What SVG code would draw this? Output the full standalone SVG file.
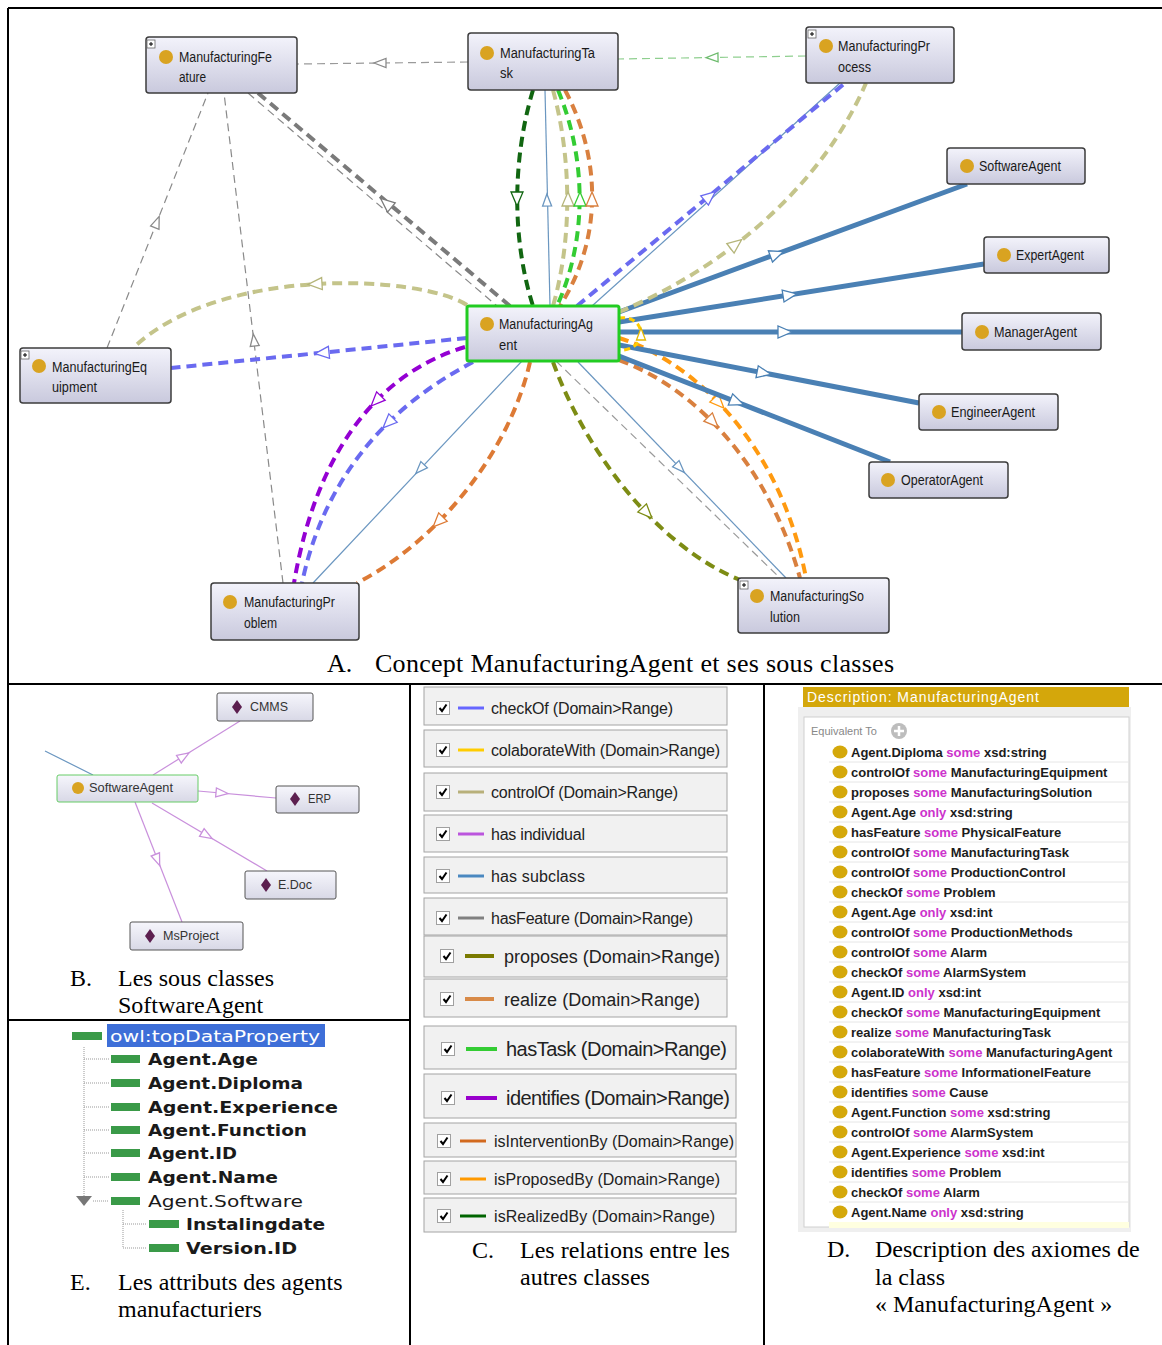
<svg xmlns="http://www.w3.org/2000/svg" width="1162" height="1345" viewBox="0 0 1162 1345">
<defs>
<linearGradient id="ng" x1="0" y1="0" x2="0" y2="1"><stop offset="0" stop-color="#f3f3fb"/><stop offset="1" stop-color="#c9c9dd"/></linearGradient>
<linearGradient id="ngb" x1="0" y1="0" x2="0" y2="1"><stop offset="0" stop-color="#f6f6fc"/><stop offset="1" stop-color="#d8d8e6"/></linearGradient>
<path id="ah" d="M7,0 L-7,-6 L-7,6 Z"/>
<path id="as" d="M6,0 L-6,-4.5 L-6,4.5 Z"/>
<g id="plus"><rect x="0" y="0" width="8" height="8" fill="#fff" stroke="#666" stroke-width="0.8"/><path d="M2,4 H6 M4,2 V6" stroke="#000" stroke-width="1"/></g>
<g id="cb"><rect x="-6.5" y="-6.5" width="13" height="13" fill="#fff" stroke="#a0a0a0"/><path d="M-3.5,0 L-1,3 L3.5,-3.5" fill="none" stroke="#000" stroke-width="2"/></g>
<path id="dia" d="M0,-7 L5,0 L0,7 L-5,0 Z" fill="#5c1f4f"/>
<style>
.frame{stroke:#000;stroke-width:2;fill:none}
.n rect.box{fill:url(#ng);stroke:#3c3c3c;stroke-width:1.5}
.nb rect.box{fill:url(#ngb);stroke:#555;stroke-width:1}
.dot{fill:#d9a321}
.lbl{font-family:"Liberation Sans",Arial,sans-serif;font-size:14px;fill:#1a1a1a}
.lblb{font-family:"Liberation Sans",Arial,sans-serif;font-size:12px;fill:#333}
.cap{font-family:"Liberation Serif","Times New Roman",serif;font-size:24px;fill:#000}
.thick{fill:none;stroke-width:4;stroke-dasharray:10 6}
.thin{fill:none;stroke-width:1.2;stroke-dasharray:8 5}
.sol{fill:none;stroke-width:1.2}
.sub{fill:none;stroke:#4a80b4;stroke-width:5}
.ah{fill:#fff;stroke-width:1.3}
.lg rect{fill:#f1f1f1;stroke:#a4a4a4;stroke-width:1}
.lt{font-family:"Liberation Sans",Arial,sans-serif;fill:#222}
.ax{font-family:"Liberation Sans",Arial,sans-serif;font-size:13px;font-weight:bold;fill:#1c1c1c}
.kw{fill:#cc33cc}
.sep{stroke:#e6e6e6;stroke-width:1}
.adot{fill:#d4a80a}
.dp{font-family:"DejaVu Sans",Verdana,sans-serif;font-size:16px;font-weight:bold;fill:#1a1a1a}
.bar{fill:#3a9a48}
.dt{stroke:#999;stroke-width:1;stroke-dasharray:1 1;fill:none}
</style>
</defs>
<rect width="1162" height="1345" fill="#fff"/>

<!-- frame -->
<g id="frame">
<path class="frame" d="M8,8 H1162 M8,8 V1345 M8,684 H1162 M410,684 V1345 M764,684 V1345 M8,1020 H410"/>
</g>

<!-- Panel A connectors -->
<g id="connectors-A">
<path class="thin" stroke="#9a9a9a" d="M468,62 L297,64"/>
<use href="#as" class="ah" stroke="#8a8a8a" transform="translate(380,63) rotate(180)"/>
<path class="thin" stroke="#8fcf8f" d="M806,56 L618,59"/>
<use href="#as" class="ah" stroke="#6dbb6d" transform="translate(712,57.5) rotate(179)"/>

<path class="thin" stroke="#888" d="M248,93 L497,306"/>
<path class="thick" stroke="#7a7a7a" d="M258,93 L510,306"/>
<use href="#ah" class="ah" stroke="#7a7a7a" transform="translate(386,203) rotate(220)"/>

<path class="thin" stroke="#8a8a8a" d="M107,348 L208,93"/>
<use href="#as" class="ah" stroke="#8a8a8a" transform="translate(157,222) rotate(-68.4)"/>
<path class="thin" stroke="#8a8a8a" d="M283,583 L224,93"/>
<use href="#as" class="ah" stroke="#8a8a8a" transform="translate(254,340) rotate(-96.9)"/>

<path class="thick" stroke="#c4c48a" d="M467,305 C420,275 220,265 133,348"/>
<use href="#ah" class="ah" stroke="#b5b57a" transform="translate(315,284) rotate(176.5)"/>
<path class="thick" stroke="#6a6af0" d="M467,338 L171,368"/>
<use href="#ah" class="ah" stroke="#6a6af0" transform="translate(322,353) rotate(174.2)"/>

<path class="thick" stroke="#9400d3" d="M465,347 C395,368 320,430 294,583"/>
<use href="#ah" class="ah" stroke="#9400d3" transform="translate(376,401) rotate(134.5)"/>
<path class="thick" stroke="#6a6af0" d="M473,362 C420,390 330,450 302,583"/>
<use href="#ah" class="ah" stroke="#6a6af0" transform="translate(388,423) rotate(135.5)"/>
<path class="sol" stroke="#6a96c0" d="M522,361 L313,583"/>
<use href="#as" class="ah" stroke="#6a96c0" transform="translate(420,469) rotate(133.3)"/>
<path class="thick" stroke="#dd7a35" d="M530,362 C510,450 440,540 357,583"/>
<use href="#ah" class="ah" stroke="#dd7a35" transform="translate(438,522) rotate(134.8)"/>

<path class="thick" stroke="#7d8c14" d="M553,362 C585,450 655,545 740,580"/>
<use href="#ah" class="ah" stroke="#7d8c14" transform="translate(647,513) rotate(46.2)"/>
<path class="thin" stroke="#9a9a9a" d="M556,361 L780,578"/>
<path class="sol" stroke="#6a96c0" d="M578,362 L786,578"/>
<use href="#as" class="ah" stroke="#6a96c0" transform="translate(680,468) rotate(46.1)"/>
<path class="thick" stroke="#d9803f" d="M619,360 C700,390 770,470 800,578"/>
<use href="#ah" class="ah" stroke="#d9803f" transform="translate(713,422) rotate(45.6)"/>
<path class="thick" stroke="#ff9a10" d="M619,338 C690,360 780,440 806,578"/>
<use href="#ah" class="ah" stroke="#ff9a10" transform="translate(719,403) rotate(46.1)"/>

<path class="sub" d="M619,312 L967,184"/>
<use href="#ah" class="ah" stroke="#4a80b4" transform="translate(777,254) rotate(-20.2)"/>
<path class="sub" d="M619,322 L984,264"/>
<use href="#ah" class="ah" stroke="#4a80b4" transform="translate(790,295) rotate(-9)"/>
<path class="sub" d="M619,332 L962,332"/>
<use href="#ah" class="ah" stroke="#4a80b4" transform="translate(785,332)"/>
<path class="sub" d="M619,345 L919,403"/>
<use href="#ah" class="ah" stroke="#4a80b4" transform="translate(764,373) rotate(10.9)"/>
<path class="sub" d="M619,356 L890,462"/>
<use href="#ah" class="ah" stroke="#4a80b4" transform="translate(737,402) rotate(21.4)"/>

<path fill="none" stroke="#ffcc00" stroke-width="3" stroke-dasharray="6 4" d="M619,318 C648,314 648,352 619,350"/>
<use href="#as" class="ah" stroke="#e6b800" transform="translate(641,334) rotate(-90)"/>

<path class="sol" stroke="#6a96c0" d="M592,306 L840,83"/>
<path class="thick" stroke="#6a6af0" d="M577,306 L845,83"/>
<use href="#ah" class="ah" stroke="#6a6af0" transform="translate(710,196) rotate(-39.6)"/>
<path class="thick" stroke="#c4c48a" d="M619,312 C720,270 820,190 866,83"/>
<use href="#ah" class="ah" stroke="#b5b57a" transform="translate(736,244) rotate(-37.6)"/>

<path class="thick" stroke="#116611" d="M533,90 C512,160 512,240 533,306"/>
<use href="#ah" class="ah" stroke="#116611" transform="translate(517,199) rotate(90)"/>
<path class="sol" stroke="#6a96c0" d="M545,90 L550,306"/>
<use href="#as" class="ah" stroke="#6a96c0" transform="translate(547,200) rotate(-91)"/>
<path class="thick" stroke="#c4c48a" d="M553,90 C572,160 572,240 553,306"/>
<use href="#ah" class="ah" stroke="#b5b57a" transform="translate(568,199) rotate(-90)"/>
<path class="thick" stroke="#33cc33" d="M558,90 C587,160 587,240 557,306"/>
<use href="#ah" class="ah" stroke="#33cc33" transform="translate(580,199) rotate(-90)"/>
<path class="thick" stroke="#d9803f" d="M565,90 C602,160 602,240 560,306"/>
<use href="#ah" class="ah" stroke="#d9803f" transform="translate(592,199) rotate(-90)"/>
</g>

<!-- Panel A nodes -->
<g id="node-ManufacturingFeature" class="n">
<rect class="box" x="146" y="37" width="151" height="56" rx="3"/>
<use href="#plus" x="147" y="40"/>
<circle class="dot" cx="166" cy="57" r="7"/>
<text class="lbl" x="179" y="62" textLength="93" lengthAdjust="spacingAndGlyphs">ManufacturingFe</text>
<text class="lbl" x="179" y="82" textLength="27" lengthAdjust="spacingAndGlyphs">ature</text>
</g>
<g id="node-ManufacturingTask" class="n">
<rect class="box" x="468" y="33" width="150" height="57" rx="3"/>
<circle class="dot" cx="487" cy="53" r="7"/>
<text class="lbl" x="500" y="58" textLength="95" lengthAdjust="spacingAndGlyphs">ManufacturingTa</text>
<text class="lbl" x="500" y="78" textLength="13" lengthAdjust="spacingAndGlyphs">sk</text>
</g>
<g id="node-ManufacturingProcess" class="n">
<rect class="box" x="806" y="27" width="148" height="56" rx="3"/>
<use href="#plus" x="808" y="30"/>
<circle class="dot" cx="826" cy="46" r="7"/>
<text class="lbl" x="838" y="51" textLength="92" lengthAdjust="spacingAndGlyphs">ManufacturingPr</text>
<text class="lbl" x="838" y="72" textLength="33" lengthAdjust="spacingAndGlyphs">ocess</text>
</g>
<g id="node-SoftwareAgent" class="n">
<rect class="box" x="947" y="148" width="138" height="36" rx="3"/>
<circle class="dot" cx="967" cy="166" r="7"/>
<text class="lbl" x="979" y="171" textLength="82" lengthAdjust="spacingAndGlyphs">SoftwareAgent</text>
</g>
<g id="node-ExpertAgent" class="n">
<rect class="box" x="984" y="237" width="125" height="36" rx="3"/>
<circle class="dot" cx="1004" cy="255" r="7"/>
<text class="lbl" x="1016" y="260" textLength="68" lengthAdjust="spacingAndGlyphs">ExpertAgent</text>
</g>
<g id="node-ManagerAgent" class="n">
<rect class="box" x="962" y="313" width="139" height="37" rx="3"/>
<circle class="dot" cx="982" cy="332" r="7"/>
<text class="lbl" x="994" y="337" textLength="83" lengthAdjust="spacingAndGlyphs">ManagerAgent</text>
</g>
<g id="node-EngineerAgent" class="n">
<rect class="box" x="919" y="394" width="139" height="36" rx="3"/>
<circle class="dot" cx="939" cy="412" r="7"/>
<text class="lbl" x="951" y="417" textLength="84" lengthAdjust="spacingAndGlyphs">EngineerAgent</text>
</g>
<g id="node-OperatorAgent" class="n">
<rect class="box" x="869" y="462" width="139" height="36" rx="3"/>
<circle class="dot" cx="888" cy="480" r="7"/>
<text class="lbl" x="901" y="485" textLength="82" lengthAdjust="spacingAndGlyphs">OperatorAgent</text>
</g>
<g id="node-ManufacturingAgent" class="n">
<rect class="box" x="467" y="306" width="152" height="55" rx="2" style="stroke:#22cc22;stroke-width:3"/>
<circle class="dot" cx="487" cy="324" r="7"/>
<text class="lbl" x="499" y="329" textLength="94" lengthAdjust="spacingAndGlyphs">ManufacturingAg</text>
<text class="lbl" x="499" y="350" textLength="18" lengthAdjust="spacingAndGlyphs">ent</text>
</g>
<g id="node-ManufacturingEquipment" class="n">
<rect class="box" x="20" y="348" width="151" height="55" rx="3"/>
<use href="#plus" x="21" y="351"/>
<circle class="dot" cx="39" cy="366" r="7"/>
<text class="lbl" x="52" y="372" textLength="95" lengthAdjust="spacingAndGlyphs">ManufacturingEq</text>
<text class="lbl" x="52" y="392" textLength="45" lengthAdjust="spacingAndGlyphs">uipment</text>
</g>
<g id="node-ManufacturingProblem" class="n">
<rect class="box" x="211" y="583" width="148" height="57" rx="3"/>
<circle class="dot" cx="230" cy="602" r="7"/>
<text class="lbl" x="244" y="607" textLength="91" lengthAdjust="spacingAndGlyphs">ManufacturingPr</text>
<text class="lbl" x="244" y="628" textLength="33" lengthAdjust="spacingAndGlyphs">oblem</text>
</g>
<g id="node-ManufacturingSolution" class="n">
<rect class="box" x="738" y="578" width="151" height="55" rx="3"/>
<use href="#plus" x="740" y="581"/>
<circle class="dot" cx="757" cy="596" r="7"/>
<text class="lbl" x="770" y="601" textLength="94" lengthAdjust="spacingAndGlyphs">ManufacturingSo</text>
<text class="lbl" x="770" y="622" textLength="30" lengthAdjust="spacingAndGlyphs">lution</text>
</g>
<text class="cap" x="327" y="672" style="font-size:26px">A.</text>
<text class="cap" x="375" y="672" style="font-size:26px" textLength="519">Concept ManufacturingAgent et ses sous classes</text>

<!-- Panel B -->
<g id="connectors-B">
<path class="sol" stroke="#6a96c0" d="M45,751 L93,775"/>
<path class="sol" stroke="#c990dc" d="M153,775 L240,721"/>
<use href="#as" class="ah" stroke="#c990dc" transform="translate(184,756) rotate(-31.8)"/>
<path class="sol" stroke="#c990dc" d="M198,791 L276,798"/>
<use href="#as" class="ah" stroke="#c990dc" transform="translate(222,793) rotate(5.1)"/>
<path class="sol" stroke="#c990dc" d="M152,803 L267,871"/>
<use href="#as" class="ah" stroke="#c990dc" transform="translate(207,835.5) rotate(30.6)"/>
<path class="sol" stroke="#c990dc" d="M135,802 L182,922"/>
<use href="#as" class="ah" stroke="#c990dc" transform="translate(157.5,860) rotate(68.6)"/>
</g>
<g id="node-B-SoftwareAgent" class="nb">
<rect class="box" x="57" y="775" width="141" height="27" rx="2" style="stroke:#6c6"/>
<circle class="dot" cx="78" cy="788" r="6"/>
<text class="lblb" x="89" y="792" textLength="84" lengthAdjust="spacingAndGlyphs">SoftwareAgent</text>
</g>
<g id="node-B-CMMS" class="nb">
<rect class="box" x="217" y="693" width="96" height="28" rx="2"/>
<use href="#dia" x="237" y="707"/>
<text class="lblb" x="250" y="711" textLength="38" lengthAdjust="spacingAndGlyphs">CMMS</text>
</g>
<g id="node-B-ERP" class="nb">
<rect class="box" x="276" y="786" width="83" height="27" rx="2"/>
<use href="#dia" x="295" y="799"/>
<text class="lblb" x="308" y="803" textLength="23" lengthAdjust="spacingAndGlyphs">ERP</text>
</g>
<g id="node-B-EDoc" class="nb">
<rect class="box" x="245" y="871" width="91" height="28" rx="2"/>
<use href="#dia" x="266" y="885"/>
<text class="lblb" x="278" y="889" textLength="34" lengthAdjust="spacingAndGlyphs">E.Doc</text>
</g>
<g id="node-B-MsProject" class="nb">
<rect class="box" x="130" y="922" width="113" height="28" rx="2"/>
<use href="#dia" x="150" y="936"/>
<text class="lblb" x="163" y="940" textLength="56" lengthAdjust="spacingAndGlyphs">MsProject</text>
</g>
<text class="cap" x="70" y="986">B.</text>
<text class="cap" x="118" y="986">Les sous classes</text>
<text class="cap" x="118" y="1013">SoftwareAgent</text>

<!-- Panel C legend -->
<g id="legend" class="lg">
<g id="lg-checkOf"><rect x="424" y="687" width="303" height="38"/><use href="#cb" x="443" y="708"/><path d="M458,708 H484" stroke="#6666ff" stroke-width="3"/><text class="lt" x="491" y="714" font-size="16" textLength="182">checkOf (Domain&gt;Range)</text></g>
<g id="lg-colaborateWith"><rect x="424" y="730" width="303" height="37"/><use href="#cb" x="443" y="750"/><path d="M458,750 H484" stroke="#ffcc00" stroke-width="3"/><text class="lt" x="491" y="756" font-size="16" textLength="229">colaborateWith (Domain&gt;Range)</text></g>
<g id="lg-controlOf"><rect x="424" y="773" width="303" height="38"/><use href="#cb" x="443" y="792"/><path d="M458,792 H484" stroke="#b8b07a" stroke-width="3"/><text class="lt" x="491" y="798" font-size="16" textLength="187">controlOf (Domain&gt;Range)</text></g>
<g id="lg-hasIndividual"><rect x="424" y="815" width="303" height="37"/><use href="#cb" x="443" y="834"/><path d="M458,834 H484" stroke="#bb55dd" stroke-width="3"/><text class="lt" x="491" y="840" font-size="16" textLength="94">has individual</text></g>
<g id="lg-hasSubclass"><rect x="424" y="857" width="303" height="36"/><use href="#cb" x="443" y="876"/><path d="M458,876 H484" stroke="#4a88c0" stroke-width="3"/><text class="lt" x="491" y="882" font-size="16" textLength="94">has subclass</text></g>
<g id="lg-hasFeature"><rect x="424" y="898" width="303" height="37"/><use href="#cb" x="443" y="918"/><path d="M458,918 H484" stroke="#808080" stroke-width="3"/><text class="lt" x="491" y="924" font-size="16" textLength="202">hasFeature (Domain&gt;Range)</text></g>
<g id="lg-proposes"><rect x="424" y="936" width="303" height="41"/><use href="#cb" x="447" y="956"/><path d="M465,956 H494" stroke="#7a7a00" stroke-width="4"/><text class="lt" x="504" y="962.5" font-size="18" textLength="216">proposes (Domain&gt;Range)</text></g>
<g id="lg-realize"><rect x="424" y="979" width="303" height="38"/><use href="#cb" x="447" y="999"/><path d="M465,999 H494" stroke="#d88a48" stroke-width="4"/><text class="lt" x="504" y="1005.5" font-size="18" textLength="196">realize (Domain&gt;Range)</text></g>
<g id="lg-hasTask"><rect x="424" y="1026" width="312" height="43"/><use href="#cb" x="448" y="1049"/><path d="M466,1049 H497" stroke="#33cc33" stroke-width="4"/><text class="lt" x="506" y="1056" font-size="20" textLength="221">hasTask (Domain&gt;Range)</text></g>
<g id="lg-identifies"><rect x="424" y="1074" width="312" height="44"/><use href="#cb" x="448" y="1098"/><path d="M466,1098 H497" stroke="#9900cc" stroke-width="4"/><text class="lt" x="506" y="1105" font-size="20" textLength="224">identifies (Domain&gt;Range)</text></g>
<g id="lg-isInterventionBy"><rect x="424" y="1123" width="312" height="34"/><use href="#cb" x="444" y="1141"/><path d="M460,1141 H486" stroke="#d2691e" stroke-width="3"/><text class="lt" x="494" y="1147" font-size="16" textLength="240">isInterventionBy (Domain&gt;Range)</text></g>
<g id="lg-isProposedBy"><rect x="424" y="1161" width="312" height="33"/><use href="#cb" x="444" y="1179"/><path d="M460,1179 H486" stroke="#ff9900" stroke-width="3"/><text class="lt" x="494" y="1185" font-size="16" textLength="226">isProposedBy (Domain&gt;Range)</text></g>
<g id="lg-isRealizedBy"><rect x="424" y="1198" width="312" height="34"/><use href="#cb" x="444" y="1216"/><path d="M460,1216 H486" stroke="#006400" stroke-width="3"/><text class="lt" x="494" y="1222" font-size="16" textLength="221">isRealizedBy (Domain&gt;Range)</text></g>
</g>
<text class="cap" x="472" y="1258">C.</text>
<text class="cap" x="520" y="1258">Les relations entre les</text>
<text class="cap" x="520" y="1285">autres classes</text>

<!-- Panel D -->
<g id="description">
<rect x="798" y="707" width="333" height="525" fill="#efefef"/>
<rect x="803" y="687" width="326" height="20" fill="#d4a70b"/>
<text x="807" y="702" font-family="Liberation Sans, Arial, sans-serif" font-size="14" fill="#fff" textLength="232">Description: ManufacturingAgent</text>
<rect x="804" y="717" width="325" height="510" fill="#fff" stroke="#d0d0d0"/>
<text x="811" y="735" font-family="Liberation Sans, Arial, sans-serif" font-size="11" fill="#888">Equivalent To</text>
<circle cx="899" cy="731" r="8" fill="#bdbdbd"/>
<path d="M894,731 H904 M899,726 V736" stroke="#fff" stroke-width="2.5"/>
<rect x="829" y="1222" width="300" height="6" fill="#ffffe0"/>
<path class="sep" d="M829,762 H1129 M829,782 H1129 M829,802 H1129 M829,822 H1129 M829,842 H1129 M829,862 H1129 M829,882 H1129 M829,902 H1129 M829,922 H1129 M829,942 H1129 M829,962 H1129 M829,982 H1129 M829,1002 H1129 M829,1022 H1129 M829,1042 H1129 M829,1062 H1129 M829,1082 H1129 M829,1102 H1129 M829,1122 H1129 M829,1142 H1129 M829,1162 H1129 M829,1182 H1129 M829,1202 H1129"/>
<g id="axiom-dots">
<ellipse class="adot" cx="840" cy="752" rx="7.5" ry="6.5"/><ellipse class="adot" cx="840" cy="772" rx="7.5" ry="6.5"/><ellipse class="adot" cx="840" cy="792" rx="7.5" ry="6.5"/><ellipse class="adot" cx="840" cy="812" rx="7.5" ry="6.5"/><ellipse class="adot" cx="840" cy="832" rx="7.5" ry="6.5"/><ellipse class="adot" cx="840" cy="852" rx="7.5" ry="6.5"/><ellipse class="adot" cx="840" cy="872" rx="7.5" ry="6.5"/><ellipse class="adot" cx="840" cy="892" rx="7.5" ry="6.5"/><ellipse class="adot" cx="840" cy="912" rx="7.5" ry="6.5"/><ellipse class="adot" cx="840" cy="932" rx="7.5" ry="6.5"/><ellipse class="adot" cx="840" cy="952" rx="7.5" ry="6.5"/><ellipse class="adot" cx="840" cy="972" rx="7.5" ry="6.5"/><ellipse class="adot" cx="840" cy="992" rx="7.5" ry="6.5"/><ellipse class="adot" cx="840" cy="1012" rx="7.5" ry="6.5"/><ellipse class="adot" cx="840" cy="1032" rx="7.5" ry="6.5"/><ellipse class="adot" cx="840" cy="1052" rx="7.5" ry="6.5"/><ellipse class="adot" cx="840" cy="1072" rx="7.5" ry="6.5"/><ellipse class="adot" cx="840" cy="1092" rx="7.5" ry="6.5"/><ellipse class="adot" cx="840" cy="1112" rx="7.5" ry="6.5"/><ellipse class="adot" cx="840" cy="1132" rx="7.5" ry="6.5"/><ellipse class="adot" cx="840" cy="1152" rx="7.5" ry="6.5"/><ellipse class="adot" cx="840" cy="1172" rx="7.5" ry="6.5"/><ellipse class="adot" cx="840" cy="1192" rx="7.5" ry="6.5"/><ellipse class="adot" cx="840" cy="1212" rx="7.5" ry="6.5"/>
</g>
<text class="ax" x="851" y="756.5">Agent.Diploma <tspan class="kw">some</tspan> xsd:string</text>
<text class="ax" x="851" y="776.5">controlOf <tspan class="kw">some</tspan> ManufacturingEquipment</text>
<text class="ax" x="851" y="796.5">proposes <tspan class="kw">some</tspan> ManufacturingSolution</text>
<text class="ax" x="851" y="816.5">Agent.Age <tspan class="kw">only</tspan> xsd:string</text>
<text class="ax" x="851" y="836.5">hasFeature <tspan class="kw">some</tspan> PhysicalFeature</text>
<text class="ax" x="851" y="856.5">controlOf <tspan class="kw">some</tspan> ManufacturingTask</text>
<text class="ax" x="851" y="876.5">controlOf <tspan class="kw">some</tspan> ProductionControl</text>
<text class="ax" x="851" y="896.5">checkOf <tspan class="kw">some</tspan> Problem</text>
<text class="ax" x="851" y="916.5">Agent.Age <tspan class="kw">only</tspan> xsd:int</text>
<text class="ax" x="851" y="936.5">controlOf <tspan class="kw">some</tspan> ProductionMethods</text>
<text class="ax" x="851" y="956.5">controlOf <tspan class="kw">some</tspan> Alarm</text>
<text class="ax" x="851" y="976.5">checkOf <tspan class="kw">some</tspan> AlarmSystem</text>
<text class="ax" x="851" y="996.5">Agent.ID <tspan class="kw">only</tspan> xsd:int</text>
<text class="ax" x="851" y="1016.5">checkOf <tspan class="kw">some</tspan> ManufacturingEquipment</text>
<text class="ax" x="851" y="1036.5">realize <tspan class="kw">some</tspan> ManufacturingTask</text>
<text class="ax" x="851" y="1056.5">colaborateWith <tspan class="kw">some</tspan> ManufacturingAgent</text>
<text class="ax" x="851" y="1076.5">hasFeature <tspan class="kw">some</tspan> InformationelFeature</text>
<text class="ax" x="851" y="1096.5">identifies <tspan class="kw">some</tspan> Cause</text>
<text class="ax" x="851" y="1116.5">Agent.Function <tspan class="kw">some</tspan> xsd:string</text>
<text class="ax" x="851" y="1136.5">controlOf <tspan class="kw">some</tspan> AlarmSystem</text>
<text class="ax" x="851" y="1156.5">Agent.Experience <tspan class="kw">some</tspan> xsd:int</text>
<text class="ax" x="851" y="1176.5">identifies <tspan class="kw">some</tspan> Problem</text>
<text class="ax" x="851" y="1196.5">checkOf <tspan class="kw">some</tspan> Alarm</text>
<text class="ax" x="851" y="1216.5">Agent.Name <tspan class="kw">only</tspan> xsd:string</text>
</g>
<text class="cap" x="827" y="1257">D.</text>
<text class="cap" x="875" y="1257">Description des axiomes de</text>
<text class="cap" x="875" y="1285">la class</text>
<text class="cap" x="875" y="1312">« ManufacturingAgent »</text>

<!-- Panel E -->
<g id="dataprops">
<path class="dt" d="M84,1047 V1196 M84,1059 H109 M84,1083 H109 M84,1107 H109 M84,1130 H109 M84,1153 H109 M84,1177 H109 M93,1201 H109 M123,1210 V1248 M123,1224 H147 M123,1248 H147"/>
<polygon points="76,1196 92,1196 84,1206" fill="#777"/>
<rect class="bar" x="72" y="1032" width="30" height="8"/>
<rect x="107" y="1024" width="218" height="23" fill="#3e6fd8"/>
<text x="110" y="1042" font-family="DejaVu Sans, Verdana, sans-serif" font-size="16" fill="#fff" textLength="210" lengthAdjust="spacingAndGlyphs">owl:topDataProperty</text>
<rect class="bar" x="111" y="1055" width="29" height="8"/><text class="dp" x="148" y="1065" textLength="110" lengthAdjust="spacingAndGlyphs">Agent.Age</text>
<rect class="bar" x="111" y="1079" width="29" height="8"/><text class="dp" x="148" y="1089" textLength="155" lengthAdjust="spacingAndGlyphs">Agent.Diploma</text>
<rect class="bar" x="111" y="1103" width="29" height="8"/><text class="dp" x="148" y="1113" textLength="190" lengthAdjust="spacingAndGlyphs">Agent.Experience</text>
<rect class="bar" x="111" y="1126" width="29" height="8"/><text class="dp" x="148" y="1136" textLength="159" lengthAdjust="spacingAndGlyphs">Agent.Function</text>
<rect class="bar" x="111" y="1149" width="29" height="8"/><text class="dp" x="148" y="1159" textLength="89" lengthAdjust="spacingAndGlyphs">Agent.ID</text>
<rect class="bar" x="111" y="1173" width="29" height="8"/><text class="dp" x="148" y="1183" textLength="130" lengthAdjust="spacingAndGlyphs">Agent.Name</text>
<rect class="bar" x="111" y="1197" width="29" height="8"/><text class="dp" x="148" y="1207" textLength="155" lengthAdjust="spacingAndGlyphs" style="font-weight:normal">Agent.Software</text>
<rect class="bar" x="149" y="1220" width="30" height="8"/><text class="dp" x="186" y="1230" textLength="139" lengthAdjust="spacingAndGlyphs">Instalingdate</text>
<rect class="bar" x="149" y="1244" width="30" height="8"/><text class="dp" x="186" y="1254" textLength="111" lengthAdjust="spacingAndGlyphs">Version.ID</text>
</g>
<text class="cap" x="70" y="1290">E.</text>
<text class="cap" x="118" y="1290">Les attributs des agents</text>
<text class="cap" x="118" y="1317">manufacturiers</text>
</svg>
